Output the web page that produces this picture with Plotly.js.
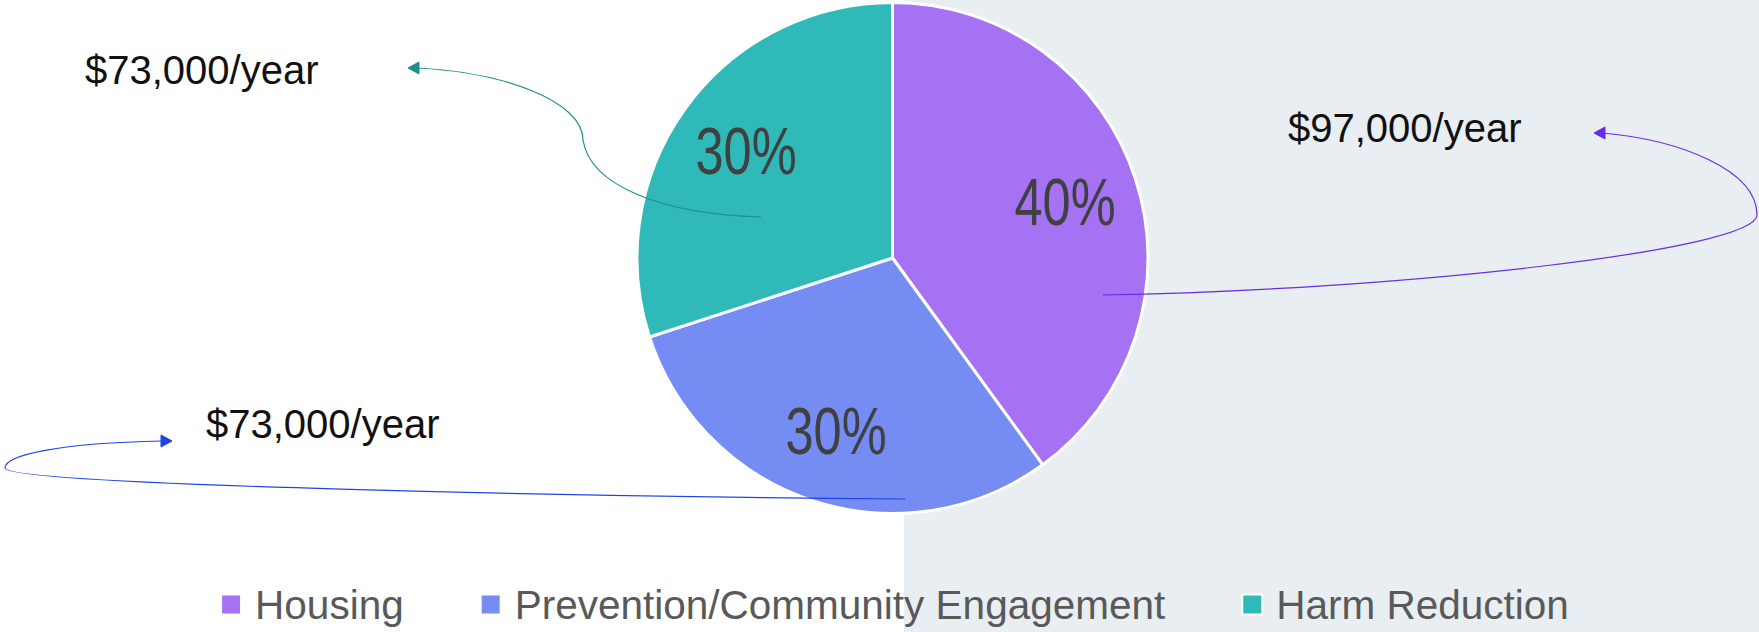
<!DOCTYPE html>
<html><head><meta charset="utf-8">
<script src="https://cdn.plot.ly/plotly-3.0.1.min.js"></script>
<style>html,body{margin:0;padding:0;background:#fff;overflow:hidden;} #chart{width:1759px;height:632px;}</style>
</head><body><div id="chart"></div>
<script>
// ---- data ----
const categories = ['Housing', 'Prevention/Community Engagement', 'Harm Reduction'];
const shares = [40, 30, 30];
const costLabels = ['$97,000/year', '$73,000/year', '$73,000/year'];
const sliceColors = ['#a472f2', '#758df2', '#2fb9b9'];
const arrowColors = ['#6a2ce6', '#1d45e6', '#1f8f8c'];

// ---- layout helpers (pixel -> paper) ----
const W = 1759, H = 632;
const pt = (x, y) => (x / W).toFixed(5) + ',' + (1 - y / H).toFixed(5);
function path(segs) {
  return segs.map(s => s[0] + (s.length > 1 ? ' ' + s.slice(1).map(p => pt(p[0], p[1])).join(' ') : '')).join(' ');
}

// pie geometry (pixels)
const PIE_CX = 892.5, PIE_CY = 258, PIE_R = 255.5;
const LABEL_R = 0.71;

// curved connector paths (decoration), one per category, in pixel space
const connectors = [
  [['M', [1103, 295]], ['C', [1400, 290], [1757, 250], [1757, 215]], ['C', [1757, 170], [1680, 140], [1603, 133]]],
  [['M', [905, 499]], ['C', [600, 497], [5, 485], [5, 468]], ['C', [5, 455], [60, 443], [162, 441]]],
  [['M', [761, 217]], ['C', [660, 214], [590, 185], [583, 140]], ['C', [583, 100], [500, 72], [418, 68]]]
];
const heads = [
  [['M', [1594, 133]], ['L', [1605, 127]], ['L', [1605, 139]], ['Z']],
  [['M', [172, 441]], ['L', [161, 435]], ['L', [161, 447]], ['Z']],
  [['M', [408, 68]], ['L', [419, 62]], ['L', [419, 74]], ['Z']]
];
const labelPos = [[1286, 128], [204, 424], [83, 70]];

const shapes = [{
  type: 'rect', xref: 'paper', yref: 'paper', x0: 904 / W, x1: 1, y0: 0, y1: 1,
  fillcolor: '#e8eef1', line: {width: 0}, layer: 'below'
}];
connectors.forEach((c, i) => shapes.push({
  type: 'path', xref: 'paper', yref: 'paper', path: path(c),
  line: {color: arrowColors[i], width: 1.2}
}));
heads.forEach((h, i) => shapes.push({
  type: 'path', xref: 'paper', yref: 'paper', path: path(h),
  fillcolor: arrowColors[i], line: {color: arrowColors[i], width: 1}
}));

const annotations = costLabels.map((t, i) => ({
  text: t, xref: 'paper', yref: 'paper', showarrow: false,
  x: labelPos[i][0] / W, y: 1 - labelPos[i][1] / H, xanchor: 'left', yanchor: 'middle',
  font: {family: 'Liberation Sans, Arial, sans-serif', size: 40, color: '#111111'}
}));

// percentage labels placed at each slice's mid-angle (computed from values)
const total = shares.reduce((a, b) => a + b, 0);
let cum = 0;
shares.forEach((v, i) => {
  const mid = (cum + v / 2) / total * 2 * Math.PI; // clockwise from 12 o'clock
  cum += v;
  const x = PIE_CX + LABEL_R * PIE_R * Math.sin(mid);
  const y = PIE_CY - LABEL_R * PIE_R * Math.cos(mid);
  annotations.push({
    text: Math.round(v / total * 100) + '%', xref: 'paper', yref: 'paper', showarrow: false,
    x: x / W, y: 1 - y / H, xanchor: 'center', yanchor: 'middle',
    font: {family: 'Liberation Sans, Arial, sans-serif', size: 66, color: '#404040'}
  });
});

const trace = {
  type: 'pie', labels: categories, values: shares, sort: false,
  direction: 'clockwise', rotation: 0,
  marker: {colors: sliceColors, line: {color: '#ffffff', width: 3}},
  textinfo: 'none',
  hoverinfo: 'skip',
  domain: {x: [(PIE_CX - PIE_R) / W, (PIE_CX + PIE_R) / W], y: [1 - (PIE_CY + PIE_R) / H, 1 - (PIE_CY - PIE_R) / H]}
};

const layout = {
  width: W, height: H,
  margin: {l: 0, r: 0, t: 0, b: 0, autoexpand: false},
  paper_bgcolor: '#ffffff',
  showlegend: true,
  legend: {
    orientation: 'h', x: 0.511, xanchor: 'center', y: 0.045, yanchor: 'middle',
    font: {family: 'Liberation Sans, Arial, sans-serif', size: 40.5, color: '#595959'},
    bgcolor: 'rgba(0,0,0,0)'
  },
  shapes: shapes,
  annotations: annotations
};

const gd = document.getElementById('chart');
Plotly.newPlot(gd, [trace], layout, {displayModeBar: false, staticPlot: true}).then(() => {
  // narrow the percentage glyphs to match the condensed face of the original
  gd.querySelectorAll('.annotation-text').forEach(t => {
    if (/%$/.test(t.textContent)) {
      const w = t.getComputedTextLength();
      t.setAttribute('lengthAdjust', 'spacingAndGlyphs');
      t.setAttribute('textLength', (w * 0.765).toFixed(1));
    }
  });
  // legend: no clipping, bigger square swatches, wider spacing between entries
  gd.querySelectorAll('.legend [clip-path]').forEach(e => e.removeAttribute('clip-path'));
  const items = Array.from(gd.querySelectorAll('.legend .traces'));
  const widths = items.map(g => g.querySelector('.legendtext').getComputedTextLength());
  const SW_TO_TEXT = 34, GAP = 77, CENTER = 895;
  const totalW = widths.reduce((a, w) => a + SW_TO_TEXT + w, 0) + GAP * (items.length - 1);
  let start = CENTER - totalW / 2;
  items.forEach((g, i) => {
    const sw = g.querySelector('.legendpoints path');
    if (sw) {
      sw.setAttribute('transform', 'translate(16,1) scale(1.667)');
      sw.style.strokeWidth = '1.2px';
    }
    const txt = g.querySelector('.legendtext');
    const curLeft = txt.getBoundingClientRect().left;
    const desired = start + SW_TO_TEXT;
    const m = /translate\(\s*([-\d.e]+)[ ,]+([-\d.e]+)\s*\)/.exec(g.getAttribute('transform') || 'translate(0,0)');
    const tx = parseFloat(m[1]) + (desired - curLeft), ty = parseFloat(m[2]);
    g.setAttribute('transform', 'translate(' + tx + ',' + ty + ')');
    start = desired + widths[i] + GAP;
  });
});
</script>
</body></html>
